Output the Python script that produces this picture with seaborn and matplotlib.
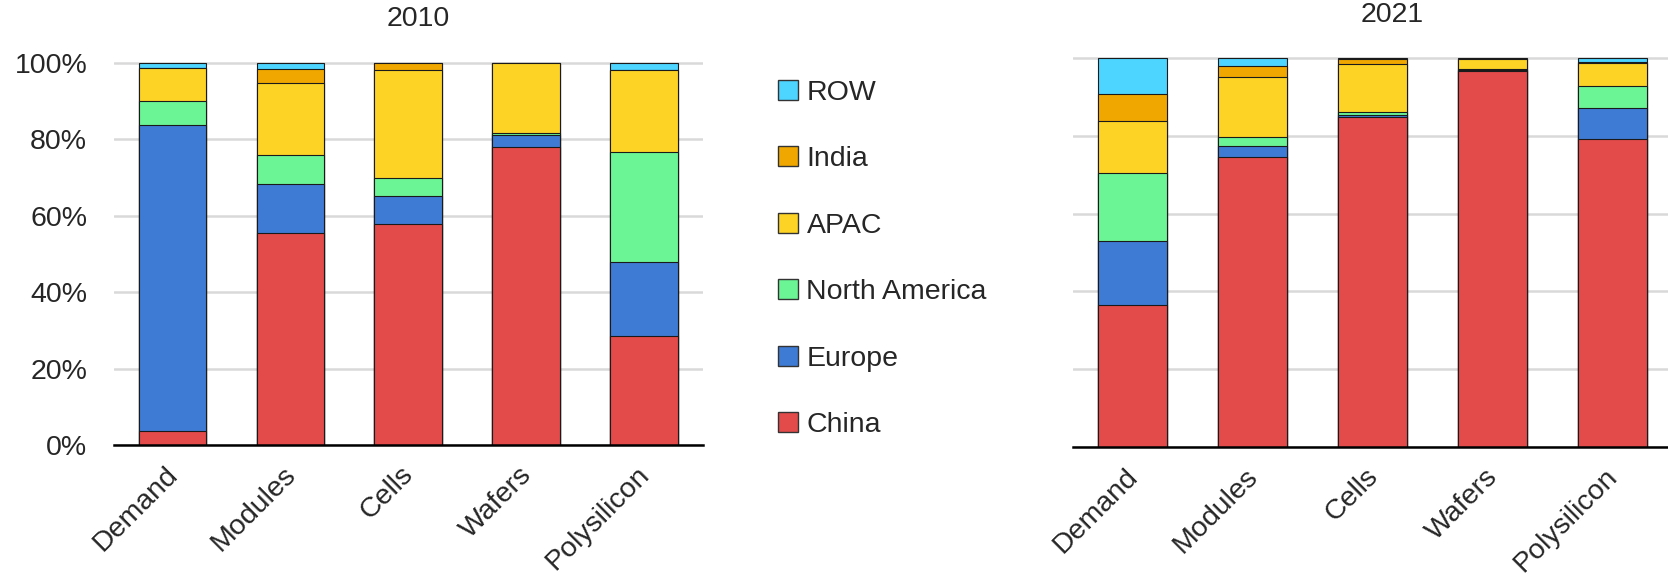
import matplotlib
matplotlib.use("Agg")
import matplotlib.pyplot as plt
import matplotlib.transforms as mtransforms
import seaborn as sns
import numpy as np
from matplotlib.patches import Patch

sns.set_style("white")
plt.rcParams['font.family'] = ['Liberation Sans', 'DejaVu Sans']

# 공급망 단계
stages = ['Demand', 'Modules', 'Cells', 'Wafers', 'Polysilicon']
regions = ['China', 'Europe', 'North America', 'APAC', 'India', 'ROW']
colors = ['#E34A4A', '#3E7BD4', '#6BF595', '#FDD326', '#F0A800', '#4DD4FF']

# 2010 (%)
china_2010 = [3.8, 55.6, 57.8, 78.1, 28.5]
europe_2010 = [80.0, 12.7, 7.3, 3.1, 19.3]
north_america_2010 = [6.2, 7.7, 4.8, 0.5, 28.8]
apac_2010 = [8.6, 18.7, 28.2, 18.3, 21.5]
india_2010 = [0.2, 3.7, 1.9, 0.0, 0.0]
row_2010 = [1.2, 1.6, 0.0, 0.0, 1.9]

# 2021 (%)
china_2021 = [36.4, 74.6, 84.8, 96.6, 79.3]
europe_2021 = [16.6, 2.8, 0.7, 0.5, 8.0]
north_america_2021 = [17.6, 2.3, 0.7, 0.1, 5.5]
apac_2021 = [13.3, 15.4, 12.3, 2.6, 5.9]
india_2021 = [6.9, 2.8, 1.2, 0.1, 0.3]
row_2021 = [9.2, 2.1, 0.3, 0.1, 1.0]

data_2010 = [china_2010, europe_2010, north_america_2010, apac_2010, india_2010, row_2010]
data_2021 = [china_2021, europe_2021, north_america_2021, apac_2021, india_2021, row_2021]


def draw_stack(ax, layers, show_yticks):
    # 누적값을 위에서부터 겹쳐 그려서 쌓인 막대를 만든다
    cum = np.cumsum(np.array(layers), axis=0)
    for i in range(len(layers) - 1, -1, -1):
        sns.barplot(x=stages, y=cum[i], color=colors[i], width=0.575,
                    edgecolor='#1a1a1a', linewidth=0.8, saturation=1,
                    errorbar=None, ax=ax, zorder=2)
    ax.set_ylim(0, 101)
    ax.set_yticks([0, 20, 40, 60, 80, 100])
    ax.yaxis.grid(True, color='#d9d9d9', linewidth=1.8)
    ax.set_axisbelow(True)
    for s in ['left', 'right', 'top']:
        ax.spines[s].set_visible(False)
    ax.spines['bottom'].set_color('black')
    ax.spines['bottom'].set_linewidth(1.8)
    ax.spines['bottom'].set_zorder(3)
    ax.set_xlabel('')
    ax.set_ylabel('')
    ax.tick_params(axis='both', length=0, labelsize=20.5)
    ax.tick_params(axis='y', pad=19)
    ax.tick_params(axis='x', pad=12)
    if show_yticks:
        ax.set_yticklabels([f'{t}%' for t in [0, 20, 40, 60, 80, 100]])
    else:
        ax.set_yticklabels([])
    shift = mtransforms.ScaledTranslation(-0.08, 0, ax.figure.dpi_scale_trans)
    for lab in ax.get_xticklabels():
        lab.set_rotation(45)
        lab.set_ha('right')
        lab.set_va('top')
        lab.set_rotation_mode('anchor')
        lab.set_transform(lab.get_transform() + shift)


fig = plt.figure(figsize=(16.68, 5.74), dpi=100)
ax1 = fig.add_axes([0.0681, 0.2247, 0.3534, 0.6721])
ax2 = fig.add_axes([0.6433, 0.2213, 0.3591, 0.6840])

draw_stack(ax1, data_2010, True)
draw_stack(ax2, data_2021, False)

fig.text(418 / 1668, 1 - 19 / 574, '2010', ha='center', va='center', fontsize=20.5)
fig.text(1392 / 1668, 1 - 15.5 / 574, '2021', ha='center', va='center', fontsize=20.5)

handles = [Patch(facecolor=c, edgecolor='#333333', linewidth=1) for c in colors]
fig.legend(handles[::-1], regions[::-1], loc='center left',
           bbox_to_anchor=(778 / 1668, 1 - 259 / 574), frameon=False,
           fontsize=20.5, handlelength=0.7, handleheight=0.7,
           handletextpad=0.3, labelspacing=1.42, borderpad=0, borderaxespad=0)

plt.savefig('out.png', dpi=100)
plt.close()
